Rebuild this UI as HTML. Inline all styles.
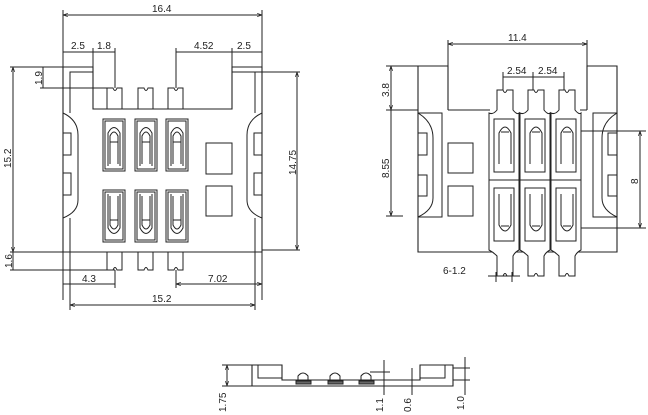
<!DOCTYPE html>
<html><head><style>
html,body{margin:0;padding:0;background:#fff;width:648px;height:415px;overflow:hidden}
svg{display:block}
text{font-family:"Liberation Sans",sans-serif;font-size:10px;fill:#222}
</style></head><body>
<svg width="648" height="415" viewBox="0 0 648 415" xmlns="http://www.w3.org/2000/svg">
<defs>
<marker id="a" viewBox="0 0 6 6" refX="6" refY="3" markerWidth="5" markerHeight="5" orient="auto-start-reverse"><path d="M0,1 L6,3 L0,5" fill="none" stroke="#222" stroke-width="0.8"/></marker>
</defs>
<g stroke="#222" stroke-width="1" fill="none">
<!-- LEFT VIEW -->
<line x1="63" y1="10" x2="63" y2="300"/><line x1="262" y1="10" x2="262" y2="300"/>
<line x1="63" y1="15" x2="262" y2="15" marker-start="url(#a)" marker-end="url(#a)"/>
<line x1="93" y1="48" x2="93" y2="67"/><line x1="115" y1="48" x2="115" y2="88"/>
<line x1="63" y1="52" x2="93" y2="52"/><line x1="93" y1="52" x2="115" y2="52"/>
<line x1="176" y1="48" x2="176" y2="88"/><line x1="232" y1="48" x2="232" y2="67"/>
<line x1="176" y1="52" x2="232" y2="52"/><line x1="232" y1="52" x2="262" y2="52"/>
<line x1="10" y1="67" x2="63" y2="67"/><line x1="40" y1="88" x2="107" y2="88"/>
<line x1="13" y1="67" x2="13" y2="252" marker-start="url(#a)" marker-end="url(#a)"/>
<line x1="43" y1="67" x2="43" y2="88"/>
<line x1="10" y1="252" x2="63" y2="252"/><line x1="10" y1="270" x2="115" y2="270"/>
<line x1="13" y1="252" x2="13" y2="270"/>
<line x1="255" y1="72" x2="300" y2="72"/><line x1="262" y1="250" x2="300" y2="250"/>
<line x1="297" y1="72" x2="297" y2="250" marker-start="url(#a)" marker-end="url(#a)"/>
<line x1="115" y1="270" x2="115" y2="288"/><line x1="176" y1="270" x2="176" y2="288"/>
<line x1="63" y1="284" x2="115" y2="284"/><line x1="176" y1="284" x2="262" y2="284" marker-start="url(#a)" marker-end="url(#a)"/>
<line x1="70" y1="252" x2="70" y2="310"/><line x1="255" y1="252" x2="255" y2="310"/>
<line x1="70" y1="305" x2="255" y2="305" marker-start="url(#a)" marker-end="url(#a)"/>
<path d="M63,113 V67 H93 V109 H232 V67 H262 V252 H63 Z" stroke-width="1.1"/>
<path d="M70,113 V72 H93 M232,72 H255 V113"/>
<line x1="70" y1="218" x2="70" y2="252"/><line x1="255" y1="218" x2="255" y2="252"/>
<path d="M63,113 Q78,120 78,135 V200 Q78,212 63,218"/>
<path d="M262,113 Q247,120 247,135 V200 Q247,212 262,218"/>
<rect x="63" y="133" width="8" height="22"/><rect x="63" y="173" width="8" height="22"/>
<rect x="254" y="133" width="8" height="22"/><rect x="254" y="173" width="8" height="22"/>
<path d="M107,109 V88 H113 Q115,93 117,88 H122 V109"/>
<path d="M138,109 V88 H144 Q146,93 148,88 H153 V109"/>
<path d="M168,109 V88 H174 Q176,93 178,88 H183 V109"/>
<path d="M107,252 V270 H113 Q115,265 117,270 H122 V252"/>
<path d="M138,252 V270 H144 Q146,265 148,270 H153 V252"/>
<path d="M168,252 V270 H174 Q176,265 178,270 H183 V252"/>
<g id="ct">
<rect x="103" y="119" width="22" height="52"/><rect x="105" y="121" width="18" height="48"/>
<path d="M108,166 V133 Q114,122 120,133 V166"/><path d="M110,164 V136 Q114,128 118,136 V164 M110,142 H118"/>
</g>
<use href="#ct" x="32"/><use href="#ct" x="63"/>
<g id="cb">
<rect x="103" y="190" width="22" height="52"/><rect x="105" y="192" width="18" height="48"/>
<path d="M108,194 V228 Q114,239 120,228 V194"/><path d="M110,196 V225 Q114,233 118,225 V196 M110,220 H118"/>
</g>
<use href="#cb" x="32"/><use href="#cb" x="63"/>
<rect x="206" y="143" width="26" height="31"/><rect x="206" y="186" width="26" height="30"/>

<!-- RIGHT VIEW -->
<line x1="448" y1="40" x2="448" y2="66"/><line x1="587" y1="40" x2="587" y2="66"/>
<line x1="448" y1="44" x2="587" y2="44" marker-start="url(#a)" marker-end="url(#a)"/>
<line x1="503" y1="72" x2="503" y2="90"/><line x1="533" y1="72" x2="533" y2="90"/><line x1="564" y1="72" x2="564" y2="90"/>
<line x1="503" y1="77" x2="533" y2="77"/><line x1="533" y1="77" x2="564" y2="77"/>
<line x1="386" y1="66" x2="418" y2="66"/><line x1="386" y1="110" x2="418" y2="110"/><line x1="386" y1="216" x2="403" y2="216"/>
<line x1="391" y1="66" x2="391" y2="110" marker-start="url(#a)" marker-end="url(#a)"/>
<line x1="391" y1="110" x2="391" y2="216" marker-end="url(#a)"/>
<line x1="566" y1="131" x2="646" y2="131"/><line x1="566" y1="228" x2="646" y2="228"/>
<line x1="640" y1="131" x2="640" y2="228" marker-start="url(#a)" marker-end="url(#a)"/>
<path d="M448,110 V66 H418 V252 H617 V66 H587 V110" stroke-width="1.1"/>
<path d="M448,110 H490 M580,110 H587"/>
<path d="M418,113 H442 V217 H418 M617,113 H593 V217 H617"/>
<path d="M418,113 Q433,122 433,138 V198 Q433,210 418,217"/>
<path d="M617,113 Q602,122 602,138 V198 Q602,210 617,217"/>
<rect x="418" y="133" width="9" height="22"/><rect x="418" y="175" width="9" height="21"/>
<rect x="608" y="133" width="9" height="22"/><rect x="608" y="175" width="9" height="21"/>
<rect x="448" y="143" width="25" height="30"/><rect x="448" y="186" width="25" height="30"/>
<g id="rc">
<path d="M497,110 V90 H503 Q505,95 507,90 H513 V110 Q517,115 519,113 V250 Q515,252 513,256 V276 H507 Q505,271 503,276 H497 V256 Q493,252 489,250 V113 Q493,115 497,110 Z" fill="#fff"/>
<line x1="489" y1="180" x2="519" y2="180"/>
<rect x="494" y="119" width="20" height="53"/>
<path d="M499,164 V133 Q505,121 511,133 V164 M501,132 H509"/>
<rect x="494" y="188" width="20" height="53"/>
<path d="M499,194 V225 Q505,237 511,225 V194 M501,226 H509"/>
</g>
<use href="#rc" x="31"/><use href="#rc" x="62"/>
<line x1="488" y1="276" x2="520" y2="276"/>
<line x1="496" y1="272" x2="496" y2="282"/><line x1="512" y1="272" x2="512" y2="282"/>

<!-- BOTTOM VIEW -->
<line x1="222" y1="365" x2="252" y2="365"/><line x1="222" y1="386" x2="252" y2="386"/>
<line x1="227" y1="365" x2="227" y2="386" marker-start="url(#a)" marker-end="url(#a)"/>
<path d="M252,365 H282 V380 H420 V365 H453 V386 H252 Z" stroke-width="1.1"/>
<path d="M258,365 V378 H282 M420,378 H445 V365"/>
<path d="M298,380 V376 Q303,370 308,376 V380 M330,380 V376 Q335,370 340,376 V380 M361,380 V376 Q366,370 371,376 V380"/>
<rect x="296" y="381" width="15" height="3" fill="#666"/><rect x="328" y="381" width="15" height="3" fill="#666"/><rect x="359" y="381" width="15" height="3" fill="#666"/>
<line x1="370" y1="372" x2="390" y2="372"/>
<line x1="384" y1="360" x2="384" y2="395"/>
<line x1="412" y1="368" x2="412" y2="395"/>
<line x1="453" y1="368" x2="470" y2="368"/><line x1="453" y1="380" x2="470" y2="380"/>
<line x1="465" y1="357" x2="465" y2="395"/>
</g>
<text x="152" y="12">16.4</text>
<text x="71" y="49">2.5</text><text x="97" y="49">1.8</text>
<text x="194" y="49">4.52</text><text x="237" y="49">2.5</text>
<text x="82" y="282">4.3</text><text x="208" y="282">7.02</text>
<text x="152" y="302">15.2</text>
<text transform="translate(11,168) rotate(-90)">15.2</text>
<text transform="translate(42,85) rotate(-90)">1.9</text>
<text transform="translate(12,268) rotate(-90)">1.6</text>
<text transform="translate(296,175) rotate(-90)">14.75</text>
<text x="508" y="41">11.4</text>
<text x="507" y="74">2.54</text><text x="538" y="74">2.54</text>
<text transform="translate(389,97) rotate(-90)">3.8</text>
<text transform="translate(389,178) rotate(-90)">8.55</text>
<text transform="translate(638,184) rotate(-90)">8</text>
<text x="443" y="274">6-1.2</text>
<text transform="translate(226,412) rotate(-90)">1.75</text>
<text transform="translate(383,412) rotate(-90)">1.1</text>
<text transform="translate(411,412) rotate(-90)">0.6</text>
<text transform="translate(464,410) rotate(-90)">1.0</text>
</svg>
</body></html>
